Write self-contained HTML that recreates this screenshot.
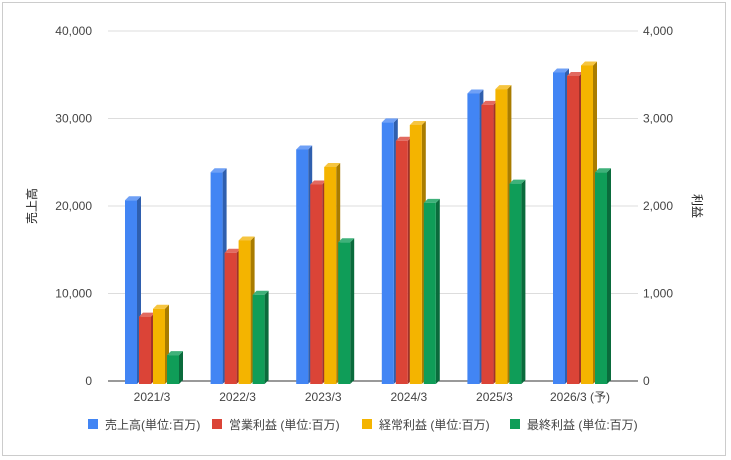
<!DOCTYPE html>
<html><head><meta charset="utf-8"><style>
body{margin:0;background:#fff;}
svg{display:block;font-family:"Liberation Sans","Noto Sans CJK JP",sans-serif;}
</style></head><body>
<svg id="chart" width="731" height="460">
<rect x="2.5" y="2.5" width="723" height="453" fill="#fff" stroke="#ccc"/>
<g id="grid"></g><g id="bars"></g><g id="labels"></g>
<text x="36" y="206" font-size="12" fill="#222" text-anchor="middle" transform="rotate(-90 36 206)">売上高</text>
<text x="693" y="206" font-size="12" fill="#222" text-anchor="middle" transform="rotate(90 693 206)">利益</text>
<g id="legend"></g>
</svg>
<script>
const categories=["2021/3","2022/3","2023/3","2024/3","2025/3","2026/3 (予)"];
const sales=[21000,24200,26800,29900,33200,35600];
const opProfit=[770,1500,2280,2780,3190,3520];
const ordProfit=[860,1640,2480,2960,3370,3640];
const netProfit=[330,1020,1620,2070,2290,2420];
const leftTicks=["0","10,000","20,000","30,000","40,000"];
const rightTicks=["0","1,000","2,000","3,000","4,000"];
const seriesNames=["売上高(単位:百万)","営業利益 (単位:百万)","経常利益 (単位:百万)","最終利益 (単位:百万)"];
const NS="http://www.w3.org/2000/svg";
const y0=381,yTop=31;
const yL=v=>y0-(v/40000)*(y0-yTop);
const yR=v=>y0-(v/4000)*(y0-yTop);
const xC=i=>152+i*85.6;
function mk(tag,attrs,parent){const e=document.createElementNS(NS,tag);for(const k in attrs)e.setAttribute(k,attrs[k]);parent.appendChild(e);return e;}
const grid=document.getElementById('grid'),bars=document.getElementById('bars'),labels=document.getElementById('labels'),legend=document.getElementById('legend');
for(let i=0;i<leftTicks.length;i++){
  const y=y0-i*(y0-yTop)/4;
  const g=mk('line',{x1:108,x2:638,y1:y,y2:y,stroke:i==0?'#333':'#ddd','stroke-width':1},grid);
  
  
  const t=mk('text',{x:92,y:y+4,'font-size':12,fill:'#444','text-anchor':'end'},labels);t.textContent=leftTicks[i];
  
  
  const r=mk('text',{x:643,y:y+4,'font-size':12,fill:'#444'},labels);r.textContent=rightTicks[i];
  
  
}
const series=[{d:sales,f:yL,c:['#4285f4','#2f5fae','#6fa0f6']},{d:opProfit,f:yR,c:['#db4437','#a1322a','#e26a60']},{d:ordProfit,f:yR,c:['#f4b400','#a97c00','#f6c540']},{d:netProfit,f:yR,c:['#0f9d58','#0a6b3c','#3fb17a']}];
const W=12,D=4;
categories.forEach((cat,i)=>{
  const t=mk('text',{x:xC(i),y:401,'font-size':12,fill:'#444','text-anchor':'middle'},labels);t.textContent=cat;
  
  
  series.forEach((s,j)=>{
    const x=xC(i)-27+j*14,top=s.f(s.d[i])+3,bot=384;
    const g=mk('g',{},bars);
    
    
    mk('polygon',{points:`${x+W},${top} ${x+W+D},${top-D} ${x+W+D},${bot-D} ${x+W},${bot}`,fill:s.c[1]},g);
    mk('polygon',{points:`${x},${top} ${x+D},${top-D} ${x+W+D},${top-D} ${x+W},${top}`,fill:s.c[2]},g);
    mk('rect',{x:x,y:top,width:W,height:bot-top,fill:s.c[0]},g);
  });
});
const lx=[88,212,362,510];
seriesNames.forEach((n,j)=>{
  const g=mk('g',{},legend);
  
  
  mk('rect',{x:lx[j],y:419,width:10,height:10,fill:series[j].c[0]},g);
  const t=mk('text',{x:lx[j]+17,y:429,'font-size':12,fill:'#444'},g);t.textContent=n;
});
</script>
</body></html>
